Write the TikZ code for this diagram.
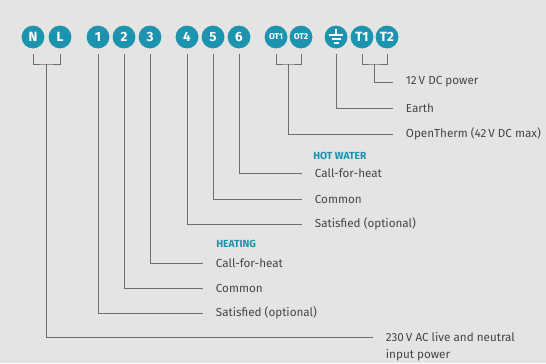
\documentclass[tikz,border=0pt]{standalone}
\usepackage{fontspec}
\setmainfont{Fira Sans}
\usetikzlibrary{positioning}
\definecolor{termblue}{HTML}{1C93AF}
\definecolor{wiregray}{HTML}{6E6E6E}
\definecolor{textgray}{HTML}{454545}
\definecolor{paper}{HTML}{E4E4E2}

\begin{document}
\begin{tikzpicture}[
    x=0.025cm, y=-0.025cm,
    terminal/.style={circle, fill=termblue, text=white, font=\fontsize{9.5}{9.5}\selectfont\bfseries, minimum size=0.57cm, inner sep=0pt, outer sep=4pt},
    smallterm/.style={terminal, font=\fontsize{6}{6}\selectfont\bfseries},
    wire/.style={draw=wiregray, line width=0.7pt},
    desc/.style={anchor=west, text=textgray, font=\fontsize{8.3}{10}\selectfont, inner xsep=9pt, inner ysep=1pt},
    group/.style={anchor=west, text=termblue, font=\fontsize{7.3}{7.3}\selectfont\bfseries, inner sep=0pt}
]

    % Hintergrund (Papier)
    \useasboundingbox (0,0) rectangle (546,363);
    \fill[paper] (0,0) rectangle (546,363);

    % Klemmenleiste
    \node[terminal] (N) at (33,37) {N};
    \node[terminal] (L) at (60,37) {L};
    \node[terminal] (t1) at (98,37) {1};
    \node[terminal] (t2) at (124,37) {2};
    \node[terminal] (t3) at (150,37) {3};
    \node[terminal] (t4) at (187,37) {4};
    \node[terminal] (t5) at (213,37) {5};
    \node[terminal] (t6) at (239,37) {6};
    \node[smallterm] (OT1) at (276,37) {OT1};
    \node[smallterm] (OT2) at (301,37) {OT2};
    \node[terminal] (PE) at (336,37) {};
    \node[terminal] (T1) at (362,37) {T1};
    \node[terminal] (T2) at (387,37) {T2};

    % Erdungssymbol
    \draw[white, line width=0.8pt] (PE.center) ++(0,-8) -- ++(0,6) ++(-7,0) -- ++(14,0) ++(-11.5,4) -- ++(9,0) ++(-7,4) -- ++(5,0);

    % Verzweigungspunkte
    \coordinate (nl) at (46,64);
    \coordinate (ot) at (288,64);
    \coordinate (tt) at (374,64);

    % Beschriftungen rechts
    \node[desc] (dc) at (393,82) {12\,V DC power};
    \node[desc] (earth) at (393,108) {Earth};
    \node[desc] (otherm) at (393,134) {OpenTherm (42\,V DC max)};

    \node[group] (hw) at (313,156) {HOT WATER};
    \node[desc] (d6) at (302,173) {Call-for-heat};
    \node[desc] (d5) at (302,199) {Common};
    \node[desc] (d4) at (302,224) {Satisfied (optional)};

    \node[group] (ht) at (216,244) {HEATING};
    \node[desc] (d3) at (203,263) {Call-for-heat};
    \node[desc] (d2) at (203,288) {Common};
    \node[desc] (d1) at (203,313) {Satisfied (optional)};

    \node[desc] (mains) at (373,337) {230\,V AC live and neutral};
    \node[desc] (mains2) at (373,355) {input power};

    % Leitungen
    \foreach \n in {1,...,6} {
        \draw[wire] (t\n) |- (d\n);
    }

    \draw[wire] (N) |- (nl) -| (L);
    \draw[wire] (nl) |- (mains);

    \draw[wire] (OT1) |- (ot) -| (OT2);
    \draw[wire] (ot) |- (otherm);

    \draw[wire] (PE) |- (earth);

    \draw[wire] (T1) |- (tt) -| (T2);
    \draw[wire] (tt) |- (dc);

\end{tikzpicture}
\end{document}
